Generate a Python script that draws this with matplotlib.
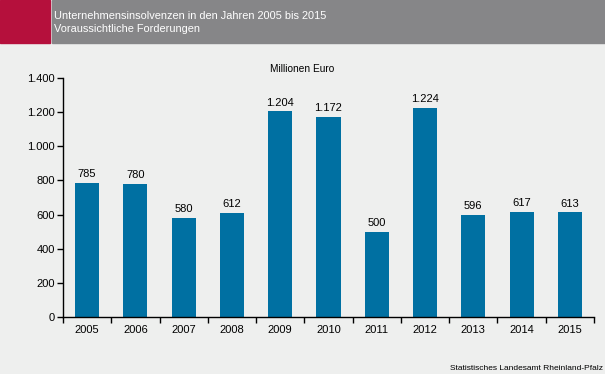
#!/usr/bin/env python3

import matplotlib
matplotlib.use("Agg")
import matplotlib.pyplot as plt
from matplotlib.patches import Rectangle

# --- Data ---
YEARS = ["2005", "2006", "2007", "2008", "2009", "2010",
         "2011", "2012", "2013", "2014", "2015"]
CLAIMS = [785, 780, 580, 612, 1204, 1172, 500, 1224, 596, 617, 613]
Y_TICKS = [0, 200, 400, 600, 800, 1000, 1200, 1400]

TITLE_1 = "Unternehmensinsolvenzen in den Jahren 2005 bis 2015"
TITLE_2 = "Voraussichtliche Forderungen"
UNIT = "Millionen Euro"
SOURCE = "Statistisches Landesamt Rheinland-Pfalz"

BG = "#eeefee"
BAR = "#0070a2"
HEAD_GRAY = "#868688"
HEAD_RED = "#b5103c"


def fmt(v):
    """German thousands separator."""
    return f"{v:,}".replace(",", ".")


def main():
    plt.rcParams["font.family"] = ["Liberation Sans", "DejaVu Sans"]
    fig = plt.figure(figsize=(6.05, 3.74), dpi=100, facecolor=BG)

    # header band
    fig.patches.append(Rectangle((0, 1 - 43 / 374), 50 / 605, 43 / 374,
                                 transform=fig.transFigure, color=HEAD_RED))
    fig.patches.append(Rectangle((52 / 605, 1 - 43 / 374), 553 / 605, 43 / 374,
                                 transform=fig.transFigure, color=HEAD_GRAY))
    fig.text(54 / 605, 1 - 16 / 374, TITLE_1, color="white", fontsize=7.9, va="center")
    fig.text(54 / 605, 1 - 29 / 374, TITLE_2, color="white", fontsize=7.9, va="center")

    ax = fig.add_axes([63 / 605, 1 - 317 / 374, 531 / 605, 239 / 374])
    ax.set_facecolor(BG)
    x = list(range(len(YEARS)))
    bars = ax.bar(x, CLAIMS, width=0.5, color=BAR)
    for b, v in zip(bars, CLAIMS):
        ax.text(b.get_x() + b.get_width() / 2, v + 22, fmt(v),
                ha="center", va="bottom", fontsize=8)

    ax.set_xlim(-0.5, len(YEARS) - 0.5)
    ax.set_ylim(0, 1400)
    ax.set_yticks(Y_TICKS)
    ax.set_yticklabels([fmt(t) for t in Y_TICKS], fontsize=8)
    ax.set_xticks(x)
    ax.set_xticklabels(YEARS, fontsize=8)
    ax.tick_params(axis="x", length=0, pad=6)
    ax.set_xticks([i - 0.5 for i in range(len(YEARS) + 1)], minor=True)
    ax.tick_params(axis="x", which="minor", length=4, width=1, direction="out")
    ax.tick_params(axis="y", length=4, width=1, direction="out", pad=2)
    for side in ("top", "right"):
        ax.spines[side].set_visible(False)
    for side in ("left", "bottom"):
        ax.spines[side].set_linewidth(1)

    fig.text(302 / 605, 1 - 69 / 374, UNIT, ha="center", va="center", fontsize=7.3)
    fig.text(603 / 605, 1 - 368 / 374, SOURCE, ha="right", va="center", fontsize=6)

    fig.savefig("out.png", dpi=100, facecolor=BG)


if __name__ == "__main__":
    main()
